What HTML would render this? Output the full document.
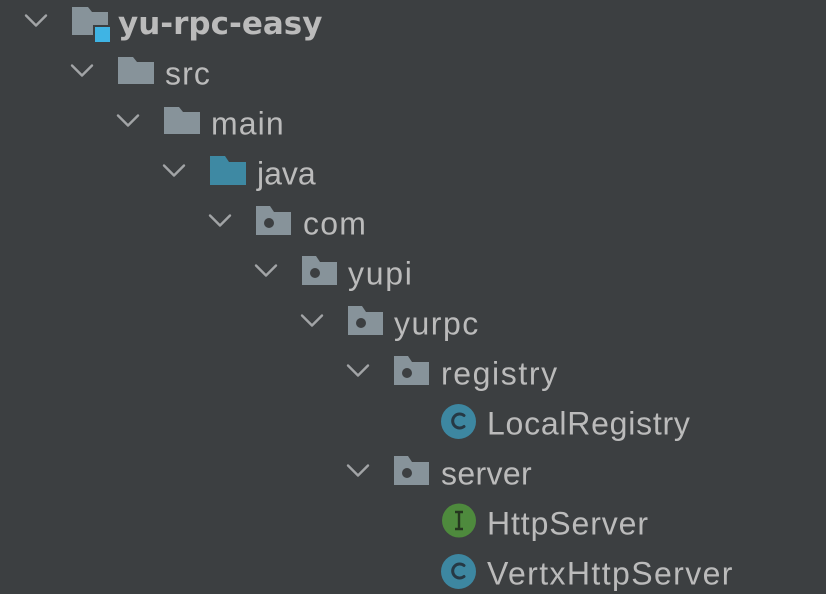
<!DOCTYPE html>
<html>
<head>
<meta charset="utf-8">
<style>
  html,body{margin:0;padding:0;background:#3c3f41;}
  body{width:826px;height:594px;overflow:hidden;}
  svg{display:block;}
  .t{font-family:"Liberation Sans",sans-serif;font-size:32px;fill:#bbbbbb;}
  .b{font-family:"DejaVu Sans","Liberation Sans",sans-serif;font-weight:bold;font-size:31px;fill:#bbbbbb;}
  .chev{fill:none;stroke:#a2a4a6;stroke-width:2.4;stroke-linecap:round;stroke-linejoin:round;}
  .fold{fill:#87939a;}
  .jfold{fill:#3e89a3;}
  .dot{fill:#3c3f41;}
</style>
</head>
<body>
<svg width="826" height="594" viewBox="0 0 826 594" xmlns="http://www.w3.org/2000/svg">
  <rect width="826" height="594" fill="#3c3f41"/>

  <!-- Row 0: yu-rpc-easy -->
  <polyline class="chev" points="26,15.5 36,25.5 46,15.5"/>
  <path class="fold" d="M72 7 h16 l4 5 h16 v23 h-36 z"/>
  <rect x="93" y="25" width="19" height="19" fill="#3c3f41"/>
  <rect x="95" y="27" width="15" height="15" fill="#3fb4e4"/>
  <text class="b" x="118" y="34">yu-rpc-easy</text>

  <!-- Row 1: src -->
  <g transform="translate(46,50)">
    <polyline class="chev" points="26,15.5 36,25.5 46,15.5"/>
    <path class="fold" d="M72 7 h15 l4 5 h17 v22 h-36 z"/>
  </g>
  <text class="t" x="165" y="84.5" letter-spacing="1.1">src</text>

  <!-- Row 2: main -->
  <g transform="translate(92,100)">
    <polyline class="chev" points="26,15.5 36,25.5 46,15.5"/>
    <path class="fold" d="M72 7 h15 l4 5 h17 v22 h-36 z"/>
  </g>
  <text class="t" x="211" y="134.5" letter-spacing="1.1">main</text>

  <!-- Row 3: java -->
  <g transform="translate(138,150)">
    <polyline class="chev" points="26,15.5 36,25.5 46,15.5"/>
    <path class="jfold" d="M72 6 h15 l4 6 h17 v23 h-36 z"/>
  </g>
  <text class="t" x="257" y="184.5" letter-spacing="0">java</text>

  <!-- Row 4: com -->
  <g transform="translate(184,200)">
    <polyline class="chev" points="26,15.5 36,25.5 46,15.5"/>
    <path class="fold" d="M72 6 h14 l4 6 h17 v23 h-35 z"/>
    <circle class="dot" cx="85" cy="23" r="5"/>
  </g>
  <text class="t" x="303" y="234.5" letter-spacing="1.2">com</text>

  <!-- Row 5: yupi -->
  <g transform="translate(230,250)">
    <polyline class="chev" points="26,15.5 36,25.5 46,15.5"/>
    <path class="fold" d="M72 6 h14 l4 6 h17 v23 h-35 z"/>
    <circle class="dot" cx="85" cy="23" r="5"/>
  </g>
  <text class="t" x="348" y="284.5" letter-spacing="1.7">yupi</text>

  <!-- Row 6: yurpc -->
  <g transform="translate(276,300)">
    <polyline class="chev" points="26,15.5 36,25.5 46,15.5"/>
    <path class="fold" d="M72 6 h14 l4 6 h17 v23 h-35 z"/>
    <circle class="dot" cx="85" cy="23" r="5"/>
  </g>
  <text class="t" x="394" y="334.5" letter-spacing="1.5">yurpc</text>

  <!-- Row 7: registry -->
  <g transform="translate(322,350)">
    <polyline class="chev" points="26,15.5 36,25.5 46,15.5"/>
    <path class="fold" d="M72 6 h14 l4 6 h17 v23 h-35 z"/>
    <circle class="dot" cx="85" cy="23" r="5"/>
  </g>
  <text class="t" x="441" y="384.5" letter-spacing="1.6">registry</text>

  <!-- Row 8: LocalRegistry -->
  <circle cx="458.5" cy="421.5" r="17.5" fill="#3d87a1"/>
  <path d="M464 415.5 a7 7 0 1 0 0 11" fill="none" stroke="#263945" stroke-width="3" stroke-linecap="round"/>
  <text class="t" x="487" y="434.5" letter-spacing="0.75">LocalRegistry</text>

  <!-- Row 9: server -->
  <g transform="translate(322,450)">
    <polyline class="chev" points="26,15.5 36,25.5 46,15.5"/>
    <path class="fold" d="M72 6 h14 l4 6 h17 v23 h-35 z"/>
    <circle class="dot" cx="85" cy="23" r="5"/>
  </g>
  <text class="t" x="441" y="484.5" letter-spacing="0.35">server</text>

  <!-- Row 10: HttpServer (interface) -->
  <circle cx="459" cy="520.5" r="17" fill="#4e8a3d"/>
  <path d="M455 512 h8 M459 512 v17 M455 529 h8" fill="none" stroke="#25361f" stroke-width="2.4"/>
  <text class="t" x="487" y="534.5" letter-spacing="0.9">HttpServer</text>

  <!-- Row 11: VertxHttpServer -->
  <circle cx="458.5" cy="571.5" r="17.5" fill="#3d87a1"/>
  <path d="M464 565.5 a7 7 0 1 0 0 11" fill="none" stroke="#263945" stroke-width="3" stroke-linecap="round"/>
  <text class="t" x="487" y="584.5" letter-spacing="1.4">VertxHttpServer</text>
</svg>
</body>
</html>
